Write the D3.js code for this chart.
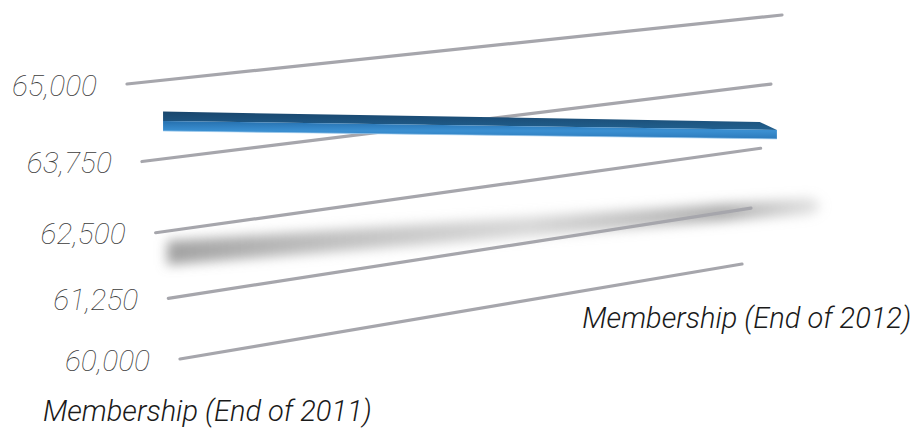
<!DOCTYPE html>
<html><head><meta charset="utf-8">
<script src="https://cdn.jsdelivr.net/npm/d3@7/dist/d3.min.js"></script>
<style>html,body{margin:0;padding:0;background:#fff;} svg{display:block}</style>
</head><body>
<svg id="chart" width="915" height="432"></svg>
<script>
// ---------- data ----------
const categories = ["Membership (End of 2011)", "Membership (End of 2012)"];
const membership = [64365, 62830];
const tickValues = [60000, 61250, 62500, 63750, 65000];
const valueDomain = [60000, 65000];

// ---------- layout (perspective frame of the value plane) ----------
const frame = {bl:[180,359], br:[742,264], tr:[782,15], tl:[127,84]};
const labelDx = [3, -8];
function homography(f){
  const [x0,y0]=f.bl,[x1,y1]=f.br,[x2,y2]=f.tr,[x3,y3]=f.tl;
  const dx1=x1-x2, dx2=x3-x2, dx3=x0-x1+x2-x3;
  const dy1=y1-y2, dy2=y3-y2, dy3=y0-y1+y2-y3;
  const det=dx1*dy2-dx2*dy1;
  const g=(dx3*dy2-dx2*dy3)/det, h=(dx1*dy3-dx3*dy1)/det;
  const a=x1-x0+g*x1, b=x3-x0+h*x3, c=x0;
  const d=y1-y0+g*y1, e=y3-y0+h*y3, k=y0;
  return (s,t)=>{const w=g*s+h*t+1; return [(a*s+b*t+c)/w,(d*s+e*t+k)/w,w];};
}
const proj = homography(frame);

const tScale = d3.scaleLinear().domain(valueDomain).range([0,1]);
const sScale = d3.scalePoint().domain(categories).range([0.038, 1.026]);
const fmt = d3.format(",");

const svg = d3.select("#chart");
const defs = svg.append("defs");

// ---------- defs ----------
const blur = defs.append("filter").attr("id","blur").attr("x","-20%").attr("y","-200%").attr("width","140%").attr("height","500%");
blur.append("feGaussianBlur").attr("stdDeviation",6);
const soft = defs.append("filter").attr("id","soft").attr("x","-5%").attr("y","-50%").attr("width","110%").attr("height","200%");
soft.append("feGaussianBlur").attr("stdDeviation",0.6);

const shGrad = defs.append("linearGradient").attr("id","shGrad").attr("x1","0").attr("x2","1").attr("y1","0").attr("y2","0");
[[0,"#8a8a8a",0.8],[0.25,"#a4a4a4",0.7],[0.55,"#bdbdbd",0.6],[0.85,"#979797",0.8],[1,"#b0b0b0",0.35]]
  .forEach(([o,c,a])=>shGrad.append("stop").attr("offset",o).attr("stop-color",c).attr("stop-opacity",a));

const topGrad = defs.append("linearGradient").attr("id","topGrad").attr("x1","0").attr("x2","0").attr("y1","0").attr("y2","1");
[[0,"#19466d"],[1,"#21608f"]].forEach(([o,c])=>topGrad.append("stop").attr("offset",o).attr("stop-color",c));
const frontGrad = defs.append("linearGradient").attr("id","frontGrad").attr("x1","0").attr("x2","0").attr("y1","0").attr("y2","1");
[[0,"#2670ae"],[0.55,"#3b90d2"],[1,"#2c7abb"]].forEach(([o,c])=>frontGrad.append("stop").attr("offset",o).attr("stop-color",c));

// ---------- data points ----------
const pts = categories.map((c,i)=>{
  const s=sScale(c), t=tScale(membership[i]);
  const p=proj(s,t);
  return {s,t,x:p[0],y:p[1],w:p[2]};
});

// ---------- shadow on the floor ----------
const shOff = [[4,132],[35,76]], shHalf=[12,8];
const sc = pts.map((p,i)=>[p.x+shOff[i][0], p.y+shOff[i][1]]);
const shadowPath = d3.path();
shadowPath.moveTo(sc[0][0], sc[0][1]-shHalf[0]);
shadowPath.lineTo(sc[1][0], sc[1][1]-shHalf[1]);
shadowPath.lineTo(sc[1][0]+10, sc[1][1]);
shadowPath.lineTo(sc[1][0], sc[1][1]+shHalf[1]);
shadowPath.lineTo(sc[0][0], sc[0][1]+shHalf[0]);
shadowPath.closePath();
svg.append("path").attr("d",shadowPath.toString()).attr("fill","url(#shGrad)").attr("filter","url(#blur)");

// ---------- gridlines ----------
const grid = svg.append("g").attr("filter","url(#soft)");
grid.selectAll("line").data(tickValues).join("line")
  .attr("x1",v=>proj(0,tScale(v))[0]).attr("y1",v=>proj(0,tScale(v))[1])
  .attr("x2",v=>proj(1,tScale(v))[0]).attr("y2",v=>proj(1,tScale(v))[1])
  .attr("stroke","#a6a6ac").attr("stroke-width",3.2).attr("stroke-linecap","round");

// ---------- tick labels ----------
svg.append("g").selectAll("text").data(tickValues).join("text")
  .attr("x",v=>proj(0,tScale(v))[0]-30).attr("y",v=>proj(0,tScale(v))[1]+1)
  .attr("text-anchor","end").attr("dominant-baseline","central")
  .attr("font-family","Roboto, 'Open Sans', sans-serif").attr("font-style","italic").attr("font-weight",100)
  .attr("font-size",30).attr("fill","#3c3c3c").text(fmt);

// ---------- 3D ribbon ----------
const vp = [163,-156];
const k0 = 0.034;
const th = [10,9];
const back = pts.map(p=>{const k=k0*pts[0].w/p.w; return [p.x+k*(vp[0]-p.x), p.y+k*(vp[1]-p.y)];});
const ribbon = svg.append("g");
ribbon.append("path")
  .attr("d", d3.line()([[pts[0].x,pts[0].y],[pts[1].x,pts[1].y],back[1],back[0]])+"Z")
  .attr("fill","url(#topGrad)");
ribbon.append("path")
  .attr("d", d3.line()([[pts[0].x,pts[0].y],[pts[1].x,pts[1].y],[pts[1].x,pts[1].y+th[1]],[pts[0].x,pts[0].y+th[0]]])+"Z")
  .attr("fill","url(#frontGrad)");
ribbon.append("path")
  .attr("d", d3.line()([[pts[0].x,pts[0].y+th[0]],[pts[1].x,pts[1].y+th[1]]]))
  .attr("stroke","#9ccbee").attr("stroke-width",1).attr("fill","none").attr("opacity",0.7);

// ---------- category labels ----------
svg.append("g").selectAll("text").data(categories).join("text")
  .attr("x",(c,i)=>proj(sScale(c),0)[0]+labelDx[i]).attr("y",c=>proj(sScale(c),0)[1]+66)
  .attr("text-anchor","middle")
  .attr("font-family","Roboto, 'Open Sans', sans-serif").attr("font-style","italic").attr("font-weight",300)
  .attr("font-size",29).attr("fill","#1a1a1a").text(c=>c);
</script>
</body></html>
